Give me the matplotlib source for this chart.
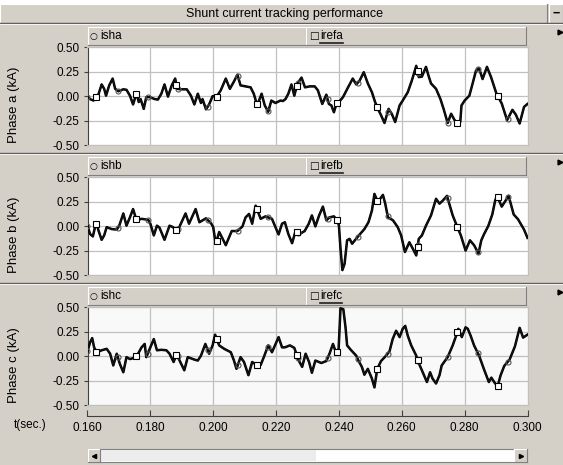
import matplotlib
matplotlib.use('Agg')
import matplotlib.pyplot as plt
from matplotlib.patches import Rectangle
import numpy as np

plt.rcParams['font.family'] = ['Liberation Sans', 'DejaVu Sans']

# axis ticks
t_ticks = [0.16, 0.18, 0.20, 0.22, 0.24, 0.26, 0.28, 0.30]
t_labels = ['0.160', '0.180', '0.200', '0.220', '0.240', '0.260', '0.280', '0.300']
y_ticks = [-0.5, -0.25, 0.0, 0.25, 0.5]
y_labels = ['-0.50', '-0.25', '0.00', '0.25', '0.50']

# phase a (kA) - isha and irefa coincide in the picture
a_t = [0.1600, 0.1608, 0.1619, 0.1627, 0.1635, 0.1645, 0.1653, 0.1659, 0.1669, 0.1680,
       0.1688, 0.1698, 0.1714, 0.1724, 0.1735, 0.1745, 0.1756, 0.1763, 0.1769, 0.1779,
       0.1787, 0.1798, 0.1814, 0.1824, 0.1835, 0.1845, 0.1856, 0.1868, 0.1879, 0.1885,
       0.1898, 0.1916, 0.1929, 0.1940, 0.1951, 0.1961, 0.1966, 0.1977, 0.1987, 0.1998,
       0.2011, 0.2024, 0.2040, 0.2053, 0.2066, 0.2077, 0.2087, 0.2103, 0.2119, 0.2129,
       0.2140, 0.2154, 0.2164, 0.2175, 0.2185, 0.2198, 0.2214, 0.2222, 0.2230, 0.2239,
       0.2249, 0.2258, 0.2268, 0.2281, 0.2292, 0.2307, 0.2323, 0.2333, 0.2347, 0.2360,
       0.2368, 0.2376, 0.2384, 0.2392, 0.2400, 0.2413, 0.2429, 0.2444, 0.2455, 0.2466,
       0.2479, 0.2492, 0.2505, 0.2515, 0.2524, 0.2534, 0.2545, 0.2558, 0.2568, 0.2579,
       0.2593, 0.2603, 0.2619, 0.2632, 0.2646, 0.2654, 0.2664, 0.2677, 0.2685, 0.2693,
       0.2709, 0.2723, 0.2733, 0.2746, 0.2757, 0.2767, 0.2776, 0.2786, 0.2790, 0.2800,
       0.2815, 0.2825, 0.2836, 0.2846, 0.2857, 0.2871, 0.2884, 0.2901, 0.2918, 0.2935,
       0.2952, 0.2963, 0.2975, 0.2989, 0.3000]
isha = [-0.010, -0.030, -0.045, -0.010, 0.020, 0.120, 0.075, 0.005, 0.110, 0.180,
        0.075, 0.050, 0.070, 0.065, 0.005, -0.085, 0.030, -0.060, -0.030, -0.130,
        -0.010, -0.010, -0.030, -0.035, 0.025, 0.120, -0.005, 0.110, 0.180, 0.075,
        0.070, 0.070, 0.005, -0.085, 0.025, -0.070, -0.030, -0.135, -0.085, 0.000,
        -0.005, 0.060, 0.180, 0.075, 0.150, 0.220, 0.110, 0.100, 0.090, 0.025,
        -0.095, 0.025, -0.095, -0.160, -0.045, -0.070, -0.045, -0.050, -0.030, 0.025,
        0.120, 0.005, 0.130, 0.190, 0.090, 0.100, 0.100, 0.060, -0.080, 0.015,
        -0.080, -0.095, -0.165, -0.080, -0.060, -0.010, 0.090, 0.180, 0.120, 0.160,
        0.245, 0.130, 0.040, -0.060, -0.130, -0.195, -0.275, -0.130, -0.180, -0.265,
        -0.095, -0.045, 0.040, 0.160, 0.310, 0.195, 0.200, 0.300, 0.210, 0.130,
        0.075, -0.030, -0.130, -0.275, -0.180, -0.240, -0.280, -0.265, -0.095, -0.045,
        0.005, 0.125, 0.260, 0.285, 0.175, 0.300, 0.195, 0.027, -0.075, -0.245,
        -0.140, -0.190, -0.280, -0.110, -0.080]
irefa = isha

# phase b (kA)
b_t = [0.1600, 0.1608, 0.1617, 0.1624, 0.1629, 0.1635, 0.1645, 0.1653, 0.1661, 0.1677,
       0.1693, 0.1701, 0.1714, 0.1724, 0.1735, 0.1745, 0.1756, 0.1772, 0.1793, 0.1800,
       0.1811, 0.1821, 0.1829, 0.1845, 0.1861, 0.1872, 0.1882, 0.1893, 0.1912, 0.1923,
       0.1944, 0.1956, 0.1977, 0.1993, 0.2000, 0.2008, 0.2019, 0.2027, 0.2040, 0.2051,
       0.2059, 0.2077, 0.2093, 0.2103, 0.2114, 0.2124, 0.2135, 0.2151, 0.2166, 0.2187,
       0.2198, 0.2208, 0.2219, 0.2228, 0.2239, 0.2251, 0.2262, 0.2275, 0.2291, 0.2304,
       0.2314, 0.2325, 0.2337, 0.2349, 0.2360, 0.2370, 0.2384, 0.2395, 0.2400, 0.2405,
       0.2411, 0.2418, 0.2426, 0.2434, 0.2442, 0.2452, 0.2466, 0.2481, 0.2494, 0.2505,
       0.2513, 0.2524, 0.2531, 0.2540, 0.2547, 0.2556, 0.2572, 0.2587, 0.2598, 0.2610,
       0.2624, 0.2635, 0.2646, 0.2654, 0.2664, 0.2677, 0.2693, 0.2709, 0.2720, 0.2730,
       0.2744, 0.2751, 0.2762, 0.2775, 0.2788, 0.2803, 0.2817, 0.2830, 0.2844, 0.2853,
       0.2862, 0.2875, 0.2888, 0.2897, 0.2903, 0.2918, 0.2940, 0.2956, 0.2970, 0.2989,
       0.3000]
ishb = [0.005, -0.080, -0.105, -0.010, 0.025, -0.045, -0.140, -0.095, -0.010, -0.030,
        -0.035, 0.005, 0.130, 0.005, 0.090, 0.175, 0.060, 0.075, 0.065, 0.025,
        -0.095, 0.005, -0.015, -0.140, 0.005, -0.010, -0.045, -0.003, 0.130, 0.025,
        0.175, 0.040, 0.080, 0.030, -0.010, -0.180, -0.060, -0.110, -0.195, -0.110,
        -0.050, -0.050, -0.003, 0.090, 0.125, 0.025, 0.210, 0.075, 0.100, 0.075,
        -0.010, -0.085, 0.025, 0.040, -0.080, -0.175, -0.050, -0.080, -0.050, 0.025,
        0.110, -0.003, 0.110, 0.200, 0.060, 0.090, 0.100, 0.060, 0.005, -0.230,
        -0.450, -0.385, -0.145, -0.130, -0.180, -0.140, -0.085, -0.030, 0.040, 0.160,
        0.330, 0.245, 0.280, 0.320, 0.235, 0.090, 0.060, -0.010, -0.095, -0.265,
        -0.165, -0.230, -0.300, -0.130, -0.095, 0.005, 0.110, 0.280, 0.230, 0.260,
        0.310, 0.230, 0.110, 0.005, -0.095, -0.250, -0.145, -0.195, -0.280, -0.145,
        -0.080, 0.000, 0.120, 0.260, 0.310, 0.200, 0.310, 0.120, 0.070, -0.035,
        -0.120]
irefb = ishb

# phase c (kA)
c_t = [0.1600, 0.1608, 0.1615, 0.1621, 0.1629, 0.1645, 0.1661, 0.1672, 0.1682, 0.1693,
       0.1703, 0.1714, 0.1724, 0.1735, 0.1751, 0.1761, 0.1772, 0.1782, 0.1787, 0.1798,
       0.1811, 0.1821, 0.1835, 0.1851, 0.1861, 0.1874, 0.1884, 0.1893, 0.1908, 0.1919,
       0.1940, 0.1951, 0.1961, 0.1975, 0.1987, 0.1998, 0.2006, 0.2019, 0.2035, 0.2056,
       0.2066, 0.2074, 0.2087, 0.2098, 0.2112, 0.2124, 0.2140, 0.2151, 0.2161, 0.2175,
       0.2187, 0.2208, 0.2219, 0.2228, 0.2244, 0.2258, 0.2268, 0.2273, 0.2283, 0.2294,
       0.2305, 0.2314, 0.2325, 0.2344, 0.2360, 0.2370, 0.2381, 0.2392, 0.2399, 0.2405,
       0.2414, 0.2421, 0.2426, 0.2439, 0.2455, 0.2462, 0.2473, 0.2481, 0.2492, 0.2505,
       0.2513, 0.2522, 0.2534, 0.2550, 0.2561, 0.2571, 0.2582, 0.2593, 0.2603, 0.2611,
       0.2619, 0.2630, 0.2646, 0.2651, 0.2662, 0.2680, 0.2690, 0.2698, 0.2709, 0.2720,
       0.2727, 0.2746, 0.2762, 0.2773, 0.2780, 0.2791, 0.2803, 0.2810, 0.2819, 0.2830,
       0.2846, 0.2861, 0.2877, 0.2885, 0.2895, 0.2905, 0.2914, 0.2926, 0.2943, 0.2960,
       0.2975, 0.2986, 0.3000]
ishc = [0.050, 0.140, 0.185, 0.090, 0.040, 0.060, 0.075, 0.025, -0.095, 0.025,
        -0.080, -0.165, -0.010, -0.030, -0.015, 0.025, 0.090, 0.125, -0.010, 0.075,
        0.175, 0.060, 0.065, 0.060, 0.025, -0.060, 0.025, -0.045, -0.145, -0.010,
        -0.035, -0.045, 0.005, 0.125, 0.025, 0.110, 0.220, 0.110, 0.075, 0.040,
        -0.045, -0.130, -0.010, -0.060, -0.195, -0.060, -0.095, -0.090, -0.010, 0.110,
        0.040, 0.195, 0.090, 0.090, 0.110, 0.085, -0.010, -0.050, -0.110, 0.025,
        -0.060, -0.170, -0.045, -0.070, -0.050, 0.025, 0.125, 0.025, 0.075, 0.490,
        0.480, 0.295, 0.110, 0.060, 0.005, -0.045, -0.110, -0.190, -0.130, -0.230,
        -0.320, -0.130, -0.050, 0.005, 0.050, 0.175, 0.260, 0.195, 0.280, 0.310,
        0.210, 0.110, 0.005, -0.050, -0.130, -0.265, -0.165, -0.230, -0.280, -0.195,
        -0.095, -0.010, 0.110, 0.210, 0.280, 0.195, 0.295, 0.280, 0.210, 0.110,
        0.005, -0.130, -0.265, -0.220, -0.270, -0.310, -0.200, -0.100, -0.035, 0.100,
        0.290, 0.190, 0.220]
irefc = ishc

# marker times (same in every graph)
circle_t = [0.1600, 0.1696, 0.1791, 0.1887, 0.1982, 0.2078, 0.2173, 0.2269, 0.2364,
            0.2460, 0.2555, 0.2651, 0.2746, 0.2842, 0.2937]
square_t = [0.1628, 0.1755, 0.1883, 0.2011, 0.2139, 0.2266, 0.2394, 0.2522, 0.2650,
            0.2777, 0.2905]

panels = [
    ('Phase a (kA)', 'isha', 'irefa', a_t, isha, irefa),
    ('Phase b (kA)', 'ishb', 'irefb', b_t, ishb, irefb),
    ('Phase c (kA)', 'ishc', 'irefc', c_t, ishc, irefc),
]

GRAY = '#d4d0c8'
DARK = '#808080'
W, H = 563, 465
X0, X1 = 87.5, 527.5

fig = plt.figure(figsize=(W / 100, H / 100), dpi=100)
fig.patch.set_facecolor(GRAY)


def box(x0, y0, x1, y1):
    return [x0 / W, 1 - y1 / H, (x1 - x0) / W, (y1 - y0) / H]


bg = fig.add_axes([0, 0, 1, 1])
bg.set_xlim(0, W)
bg.set_ylim(H, 0)
bg.axis('off')


def bevel(x0, y0, x1, y1, fill=GRAY):
    bg.add_patch(Rectangle((x0, y0), x1 - x0, y1 - y0, facecolor=fill, edgecolor='none'))
    bg.plot([x0, x1], [y0, y0], color='white', lw=0.8)
    bg.plot([x0, x0], [y0, y1], color='white', lw=0.8)
    bg.plot([x0, x1], [y1, y1], color=DARK, lw=0.8)
    bg.plot([x1, x1], [y0, y1], color=DARK, lw=0.8)


# title bar
bg.add_patch(Rectangle((0, 0), W, 4, facecolor='white', edgecolor='none'))
bevel(0, 4, 547, 23)
bevel(549, 4, 562.5, 23)
bg.text(284, 14, 'Shunt current tracking performance', ha='center', va='center', fontsize=9)
bg.text(556, 14, '\u2212', ha='center', va='center', fontsize=9, fontweight='bold')

under = []
for i, (ylab, n1, n2, t, ish, iref) in enumerate(panels):
    top = 26.7 + 130 * i
    # separator line between graphs
    bg.plot([0, W], [top - 3.5, top - 3.5], color='#606060', lw=1)
    bg.plot([0, W], [top - 2.5, top - 2.5], color='white', lw=0.6)
    # legend header
    bevel(X0, top, 306, top + 18)
    bevel(306, top, 526, top + 18)
    bg.text(90, top + 9.5, '\u25cb', ha='left', va='center', fontsize=6.5,
            family=['DejaVu Sans'])
    bg.text(100.5, top + 9.5, n1, ha='left', va='center', fontsize=8.5)
    bg.text(309, top + 9.5, '\u25a1', ha='left', va='center', fontsize=7.5,
            family=['DejaVu Sans'])
    under.append(bg.text(320, top + 9.5, n2, ha='left', va='center', fontsize=8.5))
    bg.plot([560], [top + 5], marker='>', markersize=3.5, color='black')
    # y label
    ay0, ay1 = top + 20.6, top + 118.3
    bg.text(14, (ay0 + ay1) / 2 + 9, ylab, rotation=90, ha='center', va='center',
            fontsize=9.5)

    ax = fig.add_axes(box(X0, ay0, X1, ay1))
    ax.set_facecolor('white' if i < 2 else '#f9f9f9')
    ax.plot(t, ish, color='black', lw=1.8, zorder=3)
    ax.plot(t, iref, color='#111111', lw=1.0, zorder=3)
    ax.plot(circle_t, np.interp(circle_t, t, ish), 'o', ms=3.6, mfc='none',
            mec='#555555', mew=0.8, zorder=4)
    ax.plot(square_t, np.interp(square_t, t, iref), 's', ms=3.8, mfc='white',
            mec='black', mew=0.8, zorder=4)
    ax.set_xlim(0.16, 0.30)
    ax.set_ylim(-0.5, 0.5)
    ax.set_xticks(t_ticks)
    ax.set_xticklabels([])
    ax.set_yticks(y_ticks)
    ax.set_yticklabels(y_labels, fontsize=8.5)
    ax.tick_params(axis='x', length=0)
    ax.tick_params(axis='y', length=3, width=0.8, color='#404040', pad=3)
    ax.grid(color='#c0c0c0', lw=0.9)
    for s in ['top', 'right', 'bottom']:
        ax.spines[s].set_color('#c0c0c0')
    ax.spines['left'].set_color('#404040')

# time axis
tax = fig.add_axes(box(X0, 400, X1, 416))
tax.patch.set_alpha(0)
tax.set_xlim(0.16, 0.30)
tax.set_xticks(t_ticks)
tax.set_xticklabels(t_labels, fontsize=8.5)
tax.set_yticks([])
for s in ['top', 'right', 'left']:
    tax.spines[s].set_visible(False)
tax.spines['bottom'].set_color('#404040')
tax.tick_params(axis='x', direction='in', length=4, color='#404040', pad=4)
bg.text(14, 425, 't(sec.)', ha='left', va='center', fontsize=8.5)

# scroll bar
bg.add_patch(Rectangle((X0, 449), 527 - X0, 13, facecolor='white', edgecolor=DARK, lw=0.8))
bg.add_patch(Rectangle((101, 450), 215, 11, facecolor='#ececec', edgecolor='none',
                       hatch='....', lw=0))
bevel(X0, 449, 100, 462)
bevel(514, 449, 527, 462)
bg.plot([93.5], [455.5], marker='<', markersize=3, color='black')
bg.plot([520.5], [455.5], marker='>', markersize=3, color='black')

# underline the reference signal names
fig.canvas.draw()
inv = bg.transData.inverted()
for txt in under:
    bb = txt.get_window_extent()
    (xa, ya), (xb, yb) = inv.transform([[bb.x0, bb.y0], [bb.x1, bb.y1]])
    bg.plot([xa, xb], [ya + 1, ya + 1], color='#202020', lw=1.2)

fig.savefig('out.png', dpi=100)
